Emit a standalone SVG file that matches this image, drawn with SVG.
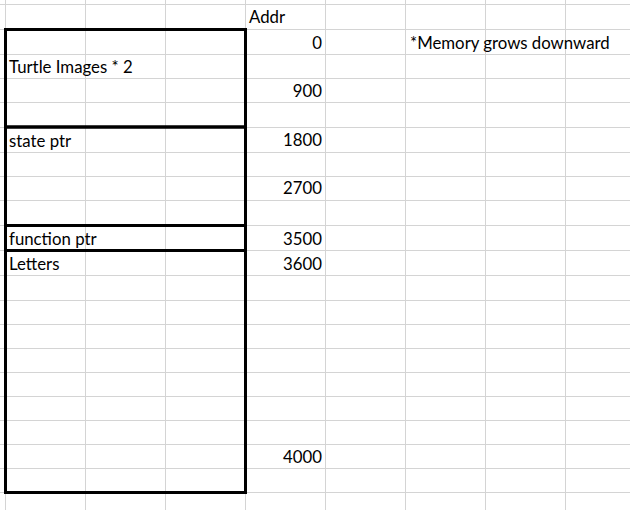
<svg xmlns="http://www.w3.org/2000/svg" width="630" height="510" viewBox="0 0 630 510">
<style>
.g{stroke:#d4d4d4;stroke-width:1;fill:none}
.b{stroke:#000;stroke-width:3;fill:none}
text{font-family:Lato,"Open Sans",sans-serif;font-size:16.8px;fill:#000}
.r{text-anchor:end}
</style>
<rect width="630" height="510" fill="#fff"/>
<g id="grid">
<path class="g" d="M0 4.5H630M0 29.5H630M0 54.5H630M0 78.5H630M0 102.5H630M0 127.5H630M0 152.5H630M0 176.5H630M0 200.5H630M0 225.5H630M0 250.5H630M0 275.5H630M0 300.5H630M0 324.5H630M0 348.5H630M0 372.5H630M0 396.5H630M0 420.5H630M0 444.5H630M0 468.5H630M0 492.5H630"/>
<path class="g" d="M5.5 0V510M85.5 0V510M165.5 0V510M245.5 0V510M325.5 0V510M405.5 0V510M485.5 0V510M565.5 0V510"/>
</g>
<g id="turtle-images">
<rect class="b" x="5.5" y="29.5" width="240" height="97.5"/>
<text x="9" y="73.3">Turtle Images * 2</text>
</g>
<g id="state-ptr">
<rect class="b" x="5.5" y="127" width="240" height="98.5"/>
<text x="9" y="146.5">state ptr</text>
</g>
<g id="function-ptr">
<rect class="b" x="5.5" y="225.5" width="240" height="25"/>
<text x="9" y="244.5">function ptr</text>
</g>
<g id="letters">
<rect class="b" x="5.5" y="250.5" width="240" height="242"/>
<text x="9" y="270">Letters</text>
</g>
<g id="addr">
<text x="249" y="22.7">Addr</text>
<text class="r" x="322" y="48.5">0</text>
<text class="r" x="322" y="96.7">900</text>
<text class="r" x="322" y="146">1800</text>
<text class="r" x="322" y="194">2700</text>
<text class="r" x="322" y="244.5">3500</text>
<text class="r" x="322" y="270">3600</text>
<text class="r" x="322" y="462.7">4000</text>
</g>
<g id="note">
<text x="410" y="48.5">*Memory grows downward</text>
</g>
</svg>
